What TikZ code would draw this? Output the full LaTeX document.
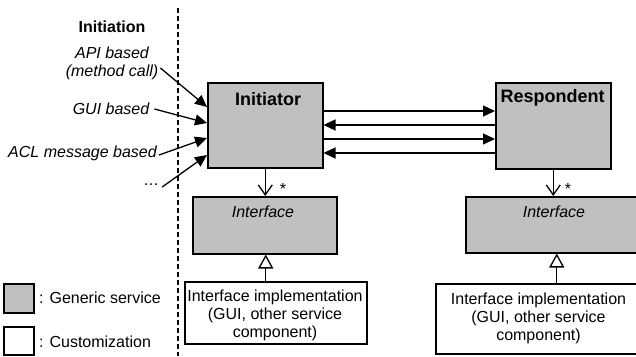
\documentclass[tikz,border=0pt]{standalone}
\usepackage{fontspec}
\setmainfont{Liberation Sans}
\usetikzlibrary{arrows.meta,calc}
\definecolor{gen}{HTML}{C0C0C0}
\tikzset{
  gbox/.style={draw=black, line width=1.5pt, fill=gen, rectangle, anchor=north west, inner sep=0pt},
  wbox/.style={draw=black, line width=1.5pt, fill=white, rectangle, anchor=north west, inner sep=0pt},
  txt/.style={font=\fontsize{16}{18}\selectfont, inner sep=2pt},
  btxt/.style={font=\fontsize{18}{20}\selectfont\bfseries, inner sep=0pt},
  itxt/.style={font=\fontsize{16}{18}\selectfont\itshape, inner sep=2pt, align=center},
  fillarrow/.style={line width=1.3pt, -{Triangle[length=12pt,width=11pt]}},
  openarrow/.style={line width=1.3pt, -{Straight Barb[length=10pt,width=14pt,line width=1.3pt]}},
  inherit/.style={line width=1.3pt, -{Triangle[open,length=14pt,width=15pt,line width=1.3pt,fill=white]}},
}
\begin{document}
\begin{tikzpicture}[x=1pt,y=-1pt]
\useasboundingbox (0,0) rectangle (636,356);
% dashed separator
\coordinate (dtop) at (178,8);
\coordinate (dbot) at (178,356);
\draw[line width=1.2pt, dash pattern=on 5pt off 3pt] (dtop) -- (dbot);
% main boxes
\node[gbox, minimum width=115pt, minimum height=85pt] (init) at (207,82) {};
\node[btxt] (inittxt) at (268,99) {Initiator};
\node[gbox, minimum width=115pt, minimum height=86pt] (resp) at (495,82) {};
\node[btxt] (resptxt) at (552.5,98) {Respondent};
% interfaces
\node[gbox, minimum width=144pt, minimum height=57pt] (intf1) at (192,196) {};
\node[itxt] (intf1txt) at (263,212) {Interface};
\node[gbox, minimum width=172pt, minimum height=56pt] (intf2) at (465,196) {};
\node[itxt] (intf2txt) at (554,212) {Interface};
% implementations
\node[wbox, minimum width=182pt, minimum height=62pt] (impl1) at (184,281) {};
\node[txt, align=center, font=\fontsize{16}{18}\selectfont] (impl1txt) at (275,315) {Interface implementation\\(GUI, other service\\component)};
\node[wbox, minimum width=202pt, minimum height=70pt] (impl2) at (435,283) {};
\node[txt, align=center, font=\fontsize{16}{18}\selectfont] (impl2txt) at (538.5,318) {Interface implementation\\(GUI, other service\\component)};
% horizontal message arrows
\draw[fillarrow] ([yshift=-29pt]init.north east) -- ([yshift=-29pt]resp.north west);
\draw[fillarrow] ([yshift=-43pt]resp.north west) -- ([yshift=-43pt]init.north east);
\draw[fillarrow] ([yshift=-57pt]init.north east) -- ([yshift=-57pt]resp.north west);
\draw[fillarrow] ([yshift=-71pt]resp.north west) -- ([yshift=-71pt]init.north east);
% associations
\draw[openarrow] (init.south) -- (init.south |- intf1.north);
\node[txt] (star1) at (283,189) {*};
\draw[openarrow] (resp.south) -- (resp.south |- intf2.north);
\node[txt] (star2) at (568,189) {*};
% inheritance
\draw[inherit] ([xshift=1pt]intf1.south |- impl1.north) -- ([xshift=1pt]intf1.south);
\draw[inherit] ([xshift=5pt]intf2.south |- impl2.north) -- ([xshift=5pt]intf2.south);
% initiation labels
\node[font=\fontsize{16}{18}\selectfont\bfseries] (initiation) at (112,27) {Initiation};
\node[itxt] (api) at (112,63) {API based\\(method call)};
\node[itxt] (gui) at (111,109) {GUI based};
\node[itxt] (acl) at (82.5,153) {ACL message based};
\node[txt] (dots) at (151,185) {…};
\draw[fillarrow] ([yshift=-5pt]api.east) -- ([yshift=-25pt]init.north west);
\draw[fillarrow] ([xshift=3pt]gui.east) -- ([yshift=-41pt]init.north west);
\draw[fillarrow] ([yshift=-2pt]acl.east) -- ([yshift=-56pt]init.north west);
\draw[fillarrow] ([xshift=1pt,yshift=-2pt]dots.east) -- ([yshift=-73pt]init.north west);
% legend
\node[gbox, minimum width=30pt, minimum height=29pt] (leg1) at (3,283) {};
\node[txt, anchor=west] (leg1txt) at (37,298) {: Generic service};
\node[wbox, minimum width=30pt, minimum height=28pt] (leg2) at (3,326) {};
\node[txt, anchor=west] (leg2txt) at (37,342) {: Customization};
\end{tikzpicture}
\end{document}
